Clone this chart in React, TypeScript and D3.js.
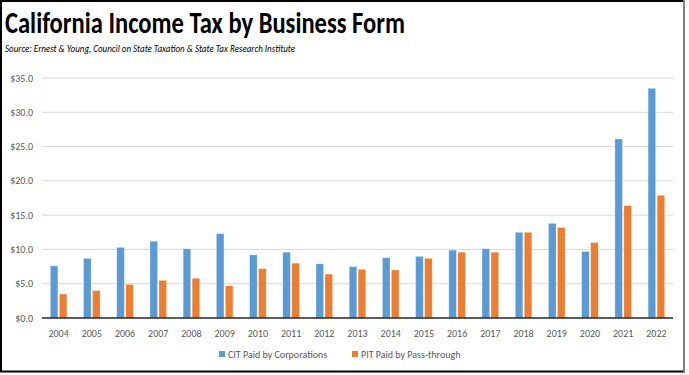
import React from "react";
import * as d3 from "d3";

const years = ["2004","2005","2006","2007","2008","2009","2010","2011","2012","2013","2014","2015","2016","2017","2018","2019","2020","2021","2022"];
const citValues = [7.6, 8.7, 10.3, 11.2, 10.1, 12.3, 9.2, 9.6, 7.9, 7.5, 8.8, 9.0, 9.9, 10.1, 12.5, 13.8, 9.7, 26.1, 33.5];
const pitValues = [3.5, 4.0, 4.9, 5.5, 5.8, 4.7, 7.2, 8.0, 6.4, 7.1, 7.0, 8.7, 9.6, 9.6, 12.5, 13.2, 11.0, 16.4, 17.9];
const yTicks = [0, 5, 10, 15, 20, 25, 30, 35];
const seriesNames = ["CIT Paid by Corporations", "PIT Paid by Pass-through"];
const colors = ["#5B9BD5", "#ED7D31"];

export default function App() {
  const W = 689, H = 375;
  const left = 42, right = 673, top = 78, bottom = 318;
  const x = d3.scaleBand<string>().domain(years).range([left, right]).padding(0);
  const y = d3.scaleLinear().domain([0, 35]).range([bottom, top]);
  const barW = 7.6, gap = 1.4;
  const font = "Calibri, Carlito, 'Liberation Sans', Arial, sans-serif";
  const series = [citValues, pitValues];
  return (
    <svg width={W} height={H} style={{ position: "absolute", left: 0, top: 0, background: "#fff" }} fontFamily={font}>
      <rect x={0} y={0} width={W} height={H} fill="#fff" />
      <text x={5} y={33} fontSize={30} fontWeight="bold" fill="#000" textLength={400} lengthAdjust="spacingAndGlyphs">California Income Tax by Business Form</text>
      <text x={5} y={52} fontSize={10.5} fontStyle="italic" fill="#000" textLength={290} lengthAdjust="spacingAndGlyphs">Source:  Ernest &amp; Young, Council on State Taxation &amp; State Tax Research Institute</text>
      {yTicks.map(t => (
        <g key={t}>
          {t > 0 && <line x1={left} x2={right} y1={y(t)} y2={y(t)} stroke="#D9D9D9" strokeWidth={1} />}
          <text x={33} y={y(t) + 3.5} fontSize={10} fill="#595959" textAnchor="end">{`$${t.toFixed(1)}`}</text>
        </g>
      ))}
      {series.map((vals, si) => (
        <g key={si}>
          {vals.map((v, i) => {
            const cx = (x(years[i]) as number) + x.bandwidth() / 2;
            const bx = si === 0 ? cx - gap / 2 - barW : cx + gap / 2;
            return <rect key={i} x={bx} y={y(v)} width={barW} height={bottom - y(v)} fill={colors[si]} stroke="#fff" strokeOpacity={0.5} strokeWidth={0.6} />;
          })}
        </g>
      ))}
      <line x1={left} x2={right} y1={bottom} y2={bottom} stroke="#262626" strokeWidth={1.5} />
      {years.map(yr => (
        <text key={yr} x={(x(yr) as number) + x.bandwidth() / 2} y={337} fontSize={10} fill="#595959" textAnchor="middle">{yr}</text>
      ))}
      <rect x={219} y={351} width={6} height={6} fill={colors[0]} />
      <text x={228} y={358} fontSize={10} fill="#595959">{seriesNames[0]}</text>
      <rect x={352} y={351} width={6} height={6} fill={colors[1]} />
      <text x={361} y={358} fontSize={10} fill="#595959">{seriesNames[1]}</text>
      <line x1={0} x2={685} y1={1} y2={1} stroke="#000" strokeWidth={2} />
      <line x1={1} x2={1} y1={0} y2={372} stroke="#000" strokeWidth={2} />
      <line x1={0} x2={685} y1={371.5} y2={371.5} stroke="#000" strokeWidth={2} />
      <line x1={684} x2={684} y1={0} y2={372} stroke="#808080" strokeWidth={2} />
    </svg>
  );
}
